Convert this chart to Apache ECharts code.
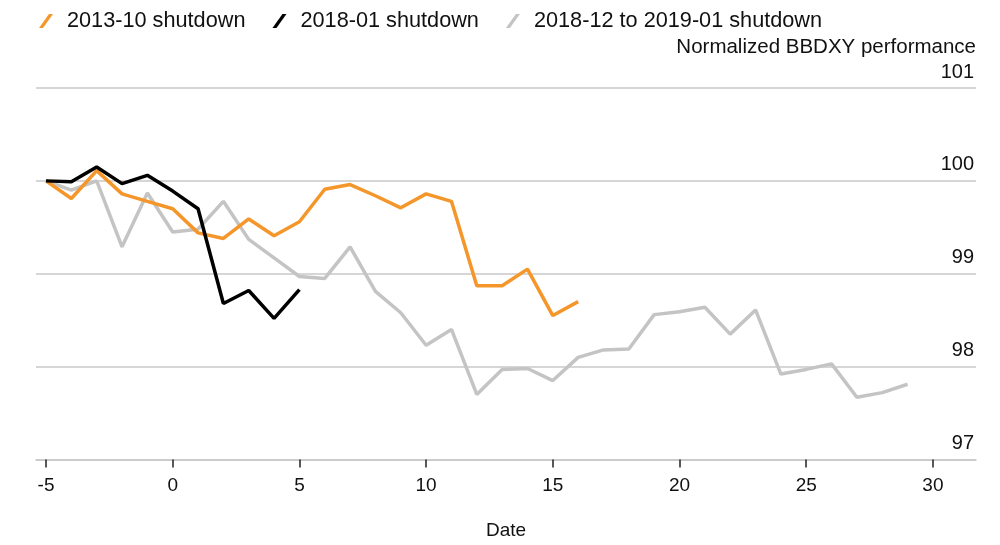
<!DOCTYPE html>
<html>
<head>
<meta charset="utf-8">
<script src="https://cdn.jsdelivr.net/npm/echarts@6/dist/echarts.min.js"></script>
<style>
  html, body { margin: 0; padding: 0; background: #fff; }
  #chart { width: 1000px; height: 545px; }
</style>
</head>
<body>
<div id="chart"></div>
<script>
// Series names
var seriesNames = ['2013-10 shutdown', '2018-01 shutdown', '2018-12 to 2019-01 shutdown'];

// Days relative to shutdown start
var days2013 = [-5,-4,-3,-2,-1,0,1,2,3,4,5,6,7,8,9,10,11,12,13,14,15,16];
var days2018 = [-5,-4,-3,-2,-1,0,1,2,3,4,5];
var days2019 = [-5,-4,-3,-2,-1,0,1,2,3,4,5,6,7,8,9,10,11,12,13,14,15,16,17,18,19,20,21,22,23,24,25,26,27,28,29];

// Normalized BBDXY performance
var vals2013 = [100.00,99.81,100.11,99.86,99.78,99.70,99.44,99.38,99.59,99.41,99.56,99.91,99.96,99.84,99.71,99.86,99.78,98.87,98.87,99.05,98.55,98.70];
var vals2018 = [100.00,99.99,100.15,99.97,100.06,99.89,99.70,98.68,98.82,98.52,98.83];
var vals2019 = [100.00,99.90,100.00,99.29,99.87,99.45,99.48,99.78,99.37,99.17,98.97,98.95,99.29,98.81,98.58,98.23,98.40,97.70,97.97,97.98,97.85,98.10,98.18,98.19,98.56,98.59,98.64,98.35,98.61,97.92,97.97,98.03,97.67,97.72,97.81];

// Tick labels
var xTicks = [-5, 0, 5, 10, 15, 20, 25, 30];
var yAxisName = 'Normalized BBDXY performance';
var xAxisName = 'Date';

function zip(xs, ys) { return xs.map(function (x, i) { return [x, ys[i]]; }); }

var FONT = '"Liberation Sans", Arial, sans-serif';
var chart = echarts.init(document.getElementById('chart'), null, { renderer: 'canvas' });

var slash = 'path://M0,14 L10,0 L14,0 L4,14 Z';

chart.setOption({
  animation: false,
  backgroundColor: '#ffffff',
  textStyle: { fontFamily: FONT },
  title: {
    text: yAxisName,
    right: 24,
    top: 37,
    padding: 0,
    textStyle: { fontSize: 20.5, fontWeight: 'normal', color: '#111', fontFamily: FONT }
  },
  legend: {
    left: 34,
    top: 5,
    itemWidth: 14,
    itemHeight: 14,
    itemGap: 27,
    icon: slash,
    textStyle: { fontSize: 21.7, color: '#111', fontFamily: FONT, padding: [0, 0, 0, 9] },
    data: seriesNames
  },
  grid: { left: 36, right: 24, top: 88, bottom: 85.5, containLabel: false, outerBoundsMode: 'none' },
  xAxis: {
    type: 'value',
    min: -5.395,
    max: 31.7,
    name: xAxisName,
    nameLocation: 'middle',
    nameGap: 62,
    nameTextStyle: { fontSize: 19, color: '#111', fontFamily: FONT, verticalAlign: 'top' },
    axisLine: { show: true, lineStyle: { color: '#c8c8c8', width: 1.5 } },
    axisTick: { show: true, customValues: xTicks, length: 8, lineStyle: { color: '#222', width: 1.5 } },
    axisLabel: { customValues: xTicks, fontSize: 19, color: '#111', margin: 17, fontFamily: FONT },
    splitLine: { show: false }
  },
  yAxis: {
    type: 'value',
    position: 'right',
    min: 97,
    max: 101,
    interval: 1,
    axisLine: { show: false },
    axisTick: { show: false },
    axisLabel: {
      inside: true, margin: 2, fontSize: 20, color: '#111', fontFamily: FONT,
      verticalAlign: 'bottom', padding: [0, 0, 6, 0]
    },
    splitLine: { show: true, lineStyle: { color: '#c8c8c8', width: 1.5 } }
  },
  series: [
    {
      name: seriesNames[0], type: 'line', data: zip(days2013, vals2013),
      showSymbol: false, symbol: 'none', z: 3,
      itemStyle: { color: '#f5962a' },
      lineStyle: { color: '#f5962a', width: 3.5 }
    },
    {
      name: seriesNames[1], type: 'line', data: zip(days2018, vals2018),
      showSymbol: false, symbol: 'none', z: 4,
      itemStyle: { color: '#000000' },
      lineStyle: { color: '#000000', width: 3.5 }
    },
    {
      name: seriesNames[2], type: 'line', data: zip(days2019, vals2019),
      showSymbol: false, symbol: 'none', z: 2,
      itemStyle: { color: '#c4c4c4' },
      lineStyle: { color: '#c4c4c4', width: 3.5 }
    }
  ]
});
</script>
</body>
</html>
